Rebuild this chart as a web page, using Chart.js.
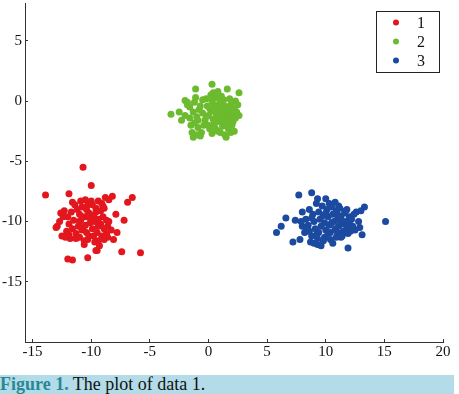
<!DOCTYPE html>
<html>
<head>
<meta charset="utf-8">
<script src="https://cdn.jsdelivr.net/npm/chart.js@4/dist/chart.umd.min.js"></script>
<style>
body { margin: 0; background: #fff; }
#wrap { position: relative; width: 459px; height: 394px; }
#caption {
    position: absolute; left: 0; top: 375px; width: 454px; height: 19px;
    background: #b3dce8; font-family: "Liberation Serif", serif; font-size: 18px;
    line-height: 19px; color: #111; white-space: nowrap;
}
#caption b { color: #2a8796; }
</style>
</head>
<body>
<div id="wrap">
<canvas id="chart" width="459" height="372"></canvas>
<div id="caption"><b>Figure 1.</b> The plot of data 1.</div>
</div>
<script>
var seriesLabels = ['1', '2', '3'];
var seriesColors = ['#e3161e', '#6cbb2f', '#1b4aa0'];
var xTicks = [-15, -10, -5, 0, 5, 10, 15, 20];
var yTicks = [-15, -10, -5, 0, 5];

var cluster1 = [
    [-13.9,-7.8],[-10.7,-5.5],[-10.0,-7.0],[-11.9,-7.7],[-5.8,-12.6],[-7.4,-12.5],[-6.5,-8.0],[-6.9,-8.4],
    [-8.2,-7.9],[-8.8,-8.0],[-7.2,-9.9],[-7.9,-9.4],[-7.8,-10.9],[-8.1,-11.5],[-10.3,-13.0],[-12.0,-13.1],
    [-11.6,-13.2],[-9.5,-12.4],[-12.9,-10.4],[-13.0,-10.5],[-12.5,-11.2],[-12.6,-9.3],[-12.3,-9.1],[-11.6,-8.4],
    [-10.3,-11.5],[-8.7,-11.0],[-11.8,-11.4],[-11.0,-11.3],
    [-10.5,-8.2],[-10.3,-8.6],[-10.8,-8.8],[-9.4,-8.3],[-9.1,-8.5],[-9.6,-8.9],[-8.9,-8.9],[-11.2,-9.0],
    [-11.0,-9.4],[-10.6,-9.6],[-10.2,-9.3],[-9.8,-9.5],[-9.4,-9.8],[-9.0,-9.6],[-8.7,-9.9],[-8.6,-10.4],
    [-9.2,-10.2],[-9.7,-10.0],[-10.1,-10.1],[-10.5,-10.3],[-11.0,-10.0],[-11.5,-9.9],[-11.9,-10.2],[-12.1,-10.8],
    [-11.6,-10.6],[-11.3,-11.0],[-10.8,-10.7],[-10.4,-10.9],[-9.9,-10.6],[-9.5,-10.9],[-9.1,-11.2],[-8.9,-11.5],
    [-9.4,-11.6],[-9.8,-11.2],[-10.6,-11.6],[-11.9,-11.1],[-12.2,-11.3],[-12.0,-9.6],[-11.4,-8.6],[-10.9,-8.3],
    [-9.9,-8.6],[-9.6,-9.2],[-10.4,-9.0],[-10.0,-9.8],[-8.5,-10.0],[-8.3,-10.7],[-9.3,-12.0],[-9.6,-12.4],
    [-10.9,-9.9],[-11.7,-9.2],[-10.7,-10.5],[-9.0,-8.7],[-8.5,-8.2],[-11.3,-11.4],[-10.2,-11.2],[-12.7,-10.0],
    [-9.7,-11.7],[-10.4,-9.6],[-9.2,-9.1],[-8.9,-10.6],[-11.1,-10.4],[-9.4,-10.4],[-10.0,-8.3],[-8.6,-11.3],
    [-12.4,-9.6],[-10.6,-11.9]
];
var cluster2 = [
    [-3.2,-1.1],[-2.5,-0.9],[-2.3,-1.6],[-1.1,1.0],[0.3,1.4],[1.6,1.0],[2.6,0.7],[2.3,0.0],
    [2.6,-1.2],[2.2,-2.5],[1.5,-3.0],[0.8,-2.5],[0.1,-2.3],[-1.3,-3.0],[-1.0,-2.8],[-2.0,0.05],
    [-1.8,-0.1],[-1.1,0.3],[-0.7,-0.4],[-1.5,-2.0],[0.4,0.7],[0.9,0.2],[2.1,-1.7],
    [-1.6,-0.5],[-1.3,-0.9],[-1.0,-1.3],[-0.8,-0.7],[-0.5,-1.0],[-0.3,-1.6],[-0.1,-0.4],[0.0,-1.2],
    [0.2,-0.8],[0.4,-1.5],[0.5,-0.3],[0.6,-1.0],[0.7,-0.6],[0.8,-1.4],[0.9,-0.9],[1.0,-0.2],
    [1.1,-1.2],[1.2,-0.7],[1.3,-1.6],[1.4,-0.4],[1.5,-1.1],[1.6,-0.6],[1.7,-1.4],[1.8,-0.9],
    [1.9,-0.3],[2.0,-1.2],[2.2,-0.6],[2.4,-0.9],[0.3,0.0],[0.6,0.3],[1.1,0.4],[-0.4,-2.0],
    [-0.9,-2.2],[-1.2,-1.8],[-1.6,-1.4],[0.0,-2.0],[0.5,-1.9],[1.2,-2.1],[1.7,-2.3],[2.0,-2.0],
    [1.9,-2.6],[1.0,-2.6],[-0.6,-2.6],[-1.4,-2.6],[-0.2,0.2],[0.8,0.8],[1.3,0.1],[-0.9,-1.6],
    [0.1,-0.6],[-0.5,0.1],[0.3,-2.7],[1.6,-1.9],[2.3,-1.4],[-2.0,-1.2],[-1.8,-0.3],[0.9,-1.7],
    [0.6,-2.3],[-0.2,-1.3],[1.4,-2.8],[-1.2,-0.1],[0.2,0.5],[1.8,0.2],[-0.7,-2.9],[2.5,-0.3],
    [1.0,-1.0],[0.4,-0.5]
];
var cluster3 = [
    [7.7,-7.8],[8.8,-7.6],[9.3,-8.1],[10.0,-8.1],[15.1,-10.0],[13.3,-8.8],[13.0,-9.1],[12.6,-9.2],
    [13.1,-11.1],[12.5,-10.7],[11.9,-12.2],[11.3,-11.3],[5.8,-10.9],[6.2,-10.4],[6.6,-9.7],[7.4,-9.9],
    [8.0,-9.2],[7.2,-11.7],[7.8,-11.5],[8.7,-11.7],[9.3,-11.9],[9.9,-11.3],[11.0,-9.4],[11.7,-9.1],
    [12.0,-9.6],
    [8.3,-9.8],[8.5,-10.3],[8.6,-10.8],[8.9,-9.4],[9.0,-10.0],[9.1,-10.6],[9.2,-11.1],[9.4,-9.2],
    [9.5,-9.8],[9.6,-10.4],[9.7,-8.7],[9.8,-9.5],[9.9,-10.1],[10.0,-10.7],[10.1,-9.0],[10.2,-9.6],
    [10.3,-10.3],[10.4,-10.9],[10.5,-8.8],[10.6,-9.4],[10.7,-10.0],[10.8,-10.6],[10.9,-9.1],[11.0,-9.8],
    [11.1,-10.4],[11.2,-8.9],[11.3,-9.6],[11.4,-10.2],[11.5,-10.8],[11.6,-9.3],[11.7,-10.0],[11.8,-10.5],
    [12.0,-10.1],[12.2,-9.8],[12.3,-10.4],[11.9,-11.0],[11.4,-11.2],[10.9,-11.3],[10.4,-11.5],[9.8,-11.6],
    [9.3,-11.4],[8.8,-11.2],[8.2,-10.9],[8.0,-10.4],[7.9,-10.0],[8.6,-9.0],[9.2,-8.5],[10.3,-8.5],
    [11.1,-8.7],[11.8,-9.0],[12.4,-9.4],[12.8,-10.0],[12.9,-10.5],[10.6,-11.8],[9.6,-12.0],[8.4,-10.6],
    [8.8,-9.7],[10.0,-9.3],[10.5,-10.1],[11.0,-10.9],[9.4,-10.9],[12.1,-10.8],[10.2,-11.0],[11.3,-10.0],
    [9.0,-11.8],[10.8,-8.4]
];

var clusters = [cluster1, cluster2, cluster3];

function toPoints(list) {
    return list.map(function (p) { return { x: p[0], y: p[1] }; });
}

// no extra room for first/last tick labels, the plot fills the canvas top
function noPadding(axis) {
    axis.paddingTop = 0;
    axis.paddingBottom = 0;
    axis.paddingLeft = 0;
    axis.paddingRight = 0;
}

var boxLegend = {
    id: 'boxLegend',
    afterDraw: function (chart) {
        var ctx = chart.ctx;
        var area = chart.chartArea;
        var right = area.right - 4;
        var left = right - 63;
        var top = area.top + 7;
        ctx.save();
        ctx.fillStyle = '#fff';
        ctx.fillRect(left, top, 63, 61);
        ctx.strokeStyle = '#222';
        ctx.lineWidth = 1;
        ctx.strokeRect(Math.round(left) + 0.5, Math.round(top) + 0.5, 63, 61);
        ctx.font = '16px "Liberation Serif"';
        ctx.textAlign = 'center';
        ctx.textBaseline = 'middle';
        chart.data.datasets.forEach(function (ds, i) {
            var y = top + 12 + i * 19;
            ctx.fillStyle = ds.backgroundColor;
            ctx.beginPath();
            ctx.arc(left + 20, y, 3, 0, Math.PI * 2);
            ctx.fill();
            ctx.fillStyle = '#111';
            ctx.fillText(ds.label, left + 45, y + 1);
        });
        ctx.restore();
    }
};

var ctx = document.getElementById('chart').getContext('2d');
var chart = new Chart(ctx, {
    type: 'scatter',
    data: {
        datasets: clusters.map(function (c, i) {
            return {
                label: seriesLabels[i],
                data: toPoints(c),
                backgroundColor: seriesColors[i],
                borderWidth: 0,
                pointRadius: 3.5,
                pointHoverRadius: 3.5
            };
        })
    },
    options: {
        responsive: false,
        animation: false,
        layout: { padding: { top: 0, right: 16, bottom: 0, left: 0 } },
        plugins: {
            legend: { display: false },
            tooltip: { enabled: false }
        },
        scales: {
            x: {
                type: 'linear',
                min: -15.65,
                max: 20,
                afterBuildTicks: function (axis) {
                    axis.ticks = xTicks.map(function (v) { return { value: v }; });
                },
                afterFit: function (axis) { axis.height = 30; noPadding(axis); },
                border: { display: true, color: '#333', width: 1 },
                grid: {
                    drawOnChartArea: false,
                    drawTicks: true,
                    tickLength: -3,
                    color: '#333'
                },
                ticks: {
                    padding: 4,
                    color: '#111',
                    maxRotation: 0,
                    autoSkip: false,
                    font: { family: 'Liberation Serif', size: 15 }
                }
            },
            y: {
                type: 'linear',
                min: -20,
                max: 8.1,
                afterBuildTicks: function (axis) {
                    axis.ticks = yTicks.map(function (v) { return { value: v }; });
                },
                afterFit: function (axis) { axis.width = 25; noPadding(axis); },
                border: { display: true, color: '#333', width: 1 },
                grid: {
                    drawOnChartArea: false,
                    drawTicks: true,
                    tickLength: -3,
                    color: '#333'
                },
                ticks: {
                    padding: 6,
                    color: '#111',
                    autoSkip: false,
                    font: { family: 'Liberation Serif', size: 15 }
                }
            }
        }
    },
    plugins: [boxLegend]
});
</script>
</body>
</html>
